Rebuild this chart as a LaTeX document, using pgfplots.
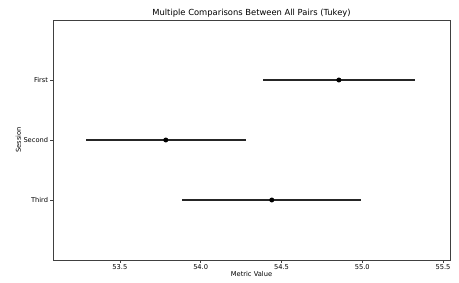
\documentclass[border=0pt]{standalone}
\usepackage{pgfplots}
\pgfplotsset{compat=1.18}
\usetikzlibrary{calc}
\usepackage{fontspec}
\setmainfont{DejaVu Sans}
\begin{document}
\fontsize{6.7}{8}\selectfont
\begin{tikzpicture}
\begin{axis}[
  scale only axis, width=397bp, height=240bp,
  xmin=53.086, xmax=55.543, ymin=-1, ymax=3,
  xtick={53.5,54.0,54.5,55.0,55.5},
  xticklabel style={/pgf/number format/.cd,fixed,fixed zerofill,precision=1},
  /pgf/number format/assume math mode=true,
  ytick={0,1,2}, yticklabels={Third,Second,First},
  tick align=outside, tick pos=left,
  major tick length=2.5bp,
  axis line style={black!75, line width=0.6pt},
  tick style={black!75, line width=0.5pt},
  xlabel={Metric Value}, ylabel={Session},
  xlabel style={yshift=3bp}, ylabel style={yshift=-2bp},
  title={Multiple Comparisons Between All Pairs (Tukey)},
  title style={yshift=-6bp, font=\fontsize{8.4}{10}\selectfont},
  ticklabel style={font=\fontsize{6.7}{8}\selectfont},
  label style={font=\fontsize{6.7}{8}\selectfont},
]
\addplot[only marks, black!85, line width=1.2pt, mark=*, mark size=2.2pt, mark options={black, fill=black, line width=0.5pt},
  error bars/.cd, x dir=both, x explicit, error bar style={black!85, line width=1.2pt}, error mark=none]
  table[x=x, y=y, x error=e] {
x y e
54.855 2 0.472
53.784 1 0.494
54.440 0 0.553
};
\end{axis}
\path (current axis.south west) ++(-53bp,-23bp) rectangle ($(current axis.north east)+(9bp,20bp)$);
\end{tikzpicture}
\end{document}
